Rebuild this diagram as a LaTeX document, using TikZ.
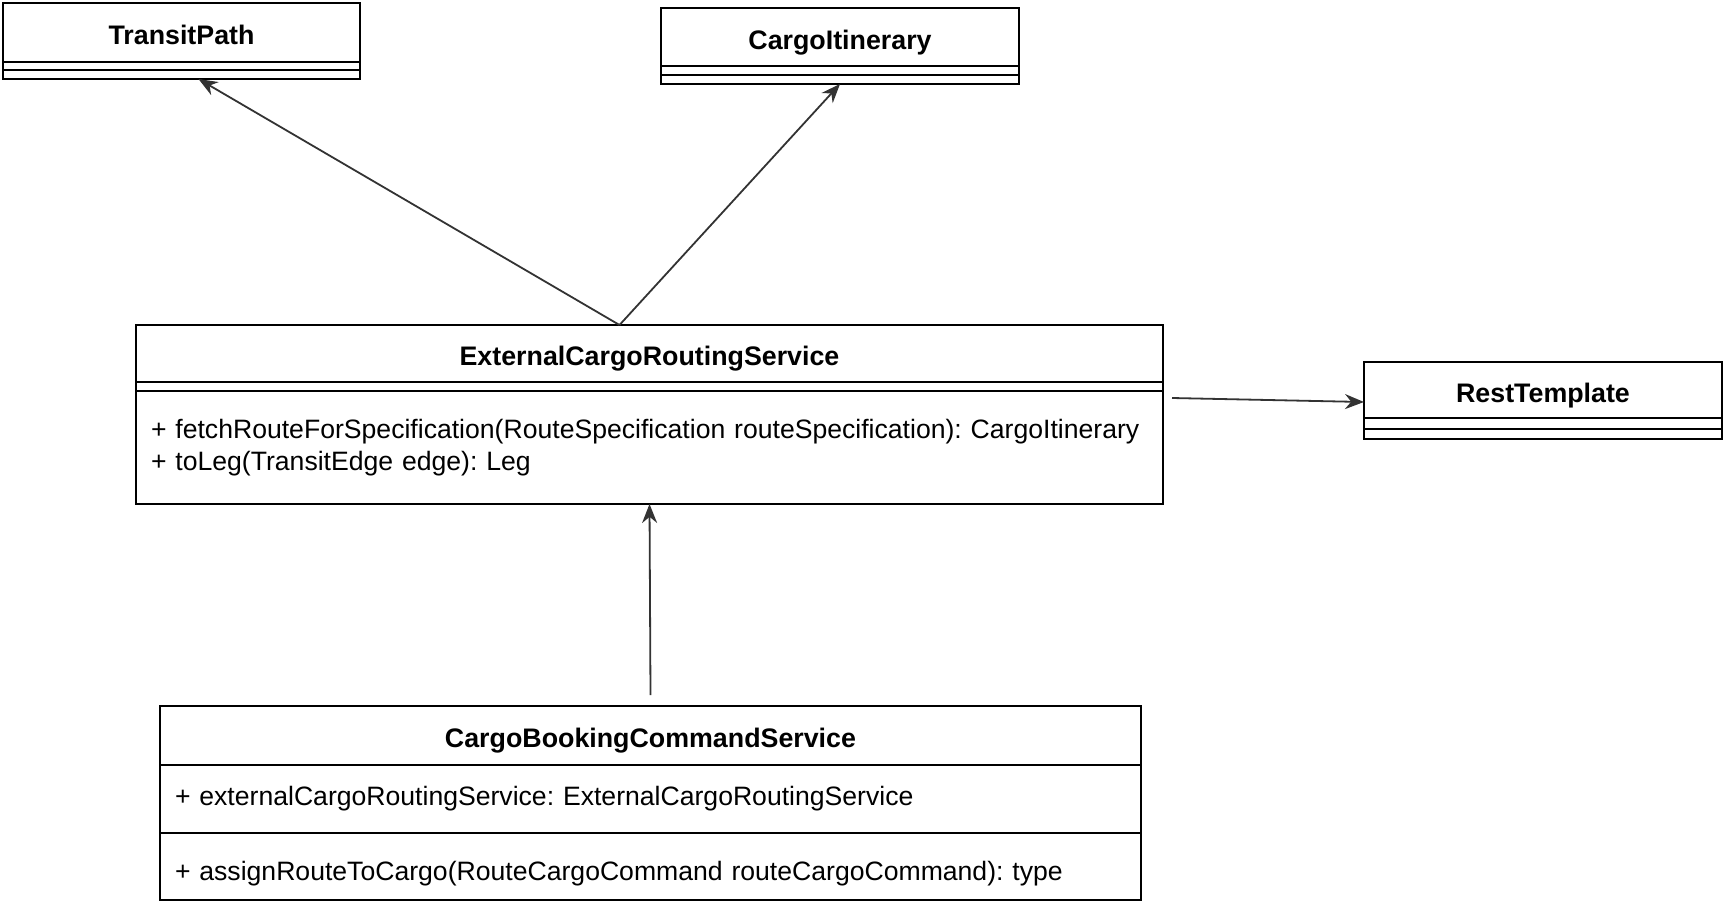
\documentclass[tikz,border=0pt]{standalone}
\usepackage{fontspec}
\setmainfont{Liberation Sans}
\frenchspacing
\usetikzlibrary{arrows.meta}

\begin{document}
\begin{tikzpicture}[x=1pt, y=-1pt,
    sepbox/.style ={draw, line width=2pt, anchor=north west, inner sep=0pt, outer sep=0pt},
    classbox/.style ={sepbox, text height=24pt, text depth=0pt,
      font=\fontsize{26.8}{32}\selectfont\bfseries},
    compbox/.style ={draw, line width=2pt, anchor=north west, inner xsep=15pt, inner ysep=0pt,
      outer sep=0pt, align=left, font=\fontsize{26.6}{32}\selectfont},
    assoc/.style ={line width=1.8pt, black!80, -{Stealth[length=19pt,width=15pt]}}]
   \useasboundingbox (0,0) rectangle (1725,902);
   \node[classbox, minimum width=357pt, minimum height=59pt] (tp) at (3,3) {TransitPath};
   \node[sepbox, minimum width=357pt, minimum height=8pt] (tp-a) at (3,62) {};
   \node[sepbox, minimum width=357pt, minimum height=9pt] (tp-b) at (3,70) {};
   \node[classbox, minimum width=358pt, minimum height=58pt] (ci) at (661,8) {CargoItinerary};
   \node[sepbox, minimum width=358pt, minimum height=9pt] (ci-a) at (661,66) {};
   \node[sepbox, minimum width=358pt, minimum height=9pt] (ci-b) at (661,75) {};
   \node[classbox, minimum width=1027pt, minimum height=57pt] (ecrs) at (136,325) {ExternalCargoRoutingService};
   \node[sepbox, minimum width=1027pt, minimum height=9pt] (ecrs-a) at (136,382) {};
   \node[compbox, text width=997pt, minimum height=113pt] (ecrs-m) at (136,391)
      {+ fetchRouteForSpecification(RouteSpecification routeSpecification): CargoItinerary\\
       + toLeg(TransitEdge edge): Leg};
   \node[classbox, minimum width=358pt, minimum height=56pt] (rt) at (1364,362) {RestTemplate};
   \node[sepbox, minimum width=358pt, minimum height=11pt] (rt-a) at (1364,418) {};
   \node[sepbox, minimum width=358pt, minimum height=10pt] (rt-b) at (1364,429) {};
   \node[classbox, minimum width=981pt, minimum height=59pt] (cbs) at (160,706) {CargoBookingCommandService};
   \node[compbox, text width=951pt, minimum height=68pt] (cbs-a) at (160,765)
      {+ externalCargoRoutingService: ExternalCargoRoutingService};
   \node[compbox, text width=951pt, minimum height=67pt, text height=27pt, text depth=0pt] (cbs-m) at (160,833)
      {+ assignRouteToCargo(RouteCargoCommand routeCargoCommand): type};
   \draw[assoc] ([xshift=-30pt]ecrs.north) -- ([xshift=17pt]tp-b.south);
   \draw[assoc] ([xshift=-30pt]ecrs.north) -- (ci-b.south);
   \draw[assoc] ([xshift=9pt,yshift=-7pt]ecrs-m.north east) -- ([yshift=-12pt]rt.west);
   \draw[assoc] ([yshift=11pt]cbs.north) -- (ecrs-m.south);
 \end{tikzpicture}
\end{document}
